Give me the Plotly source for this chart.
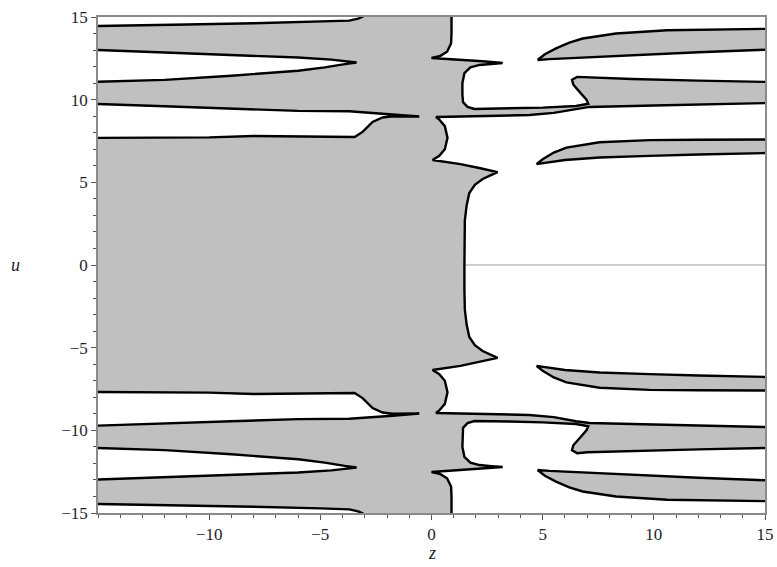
import plotly.graph_objects as go

# ---- data (upper half, u >= 0; lower half is the mirror image u -> -u) ----
# main grey region boundary, from (z, 0) on the right side going up and round to the left edge
main_z = [1.48, 1.48, 1.50, 1.58, 1.70, 1.95, 2.30, 2.70, 2.97, 2.20, 1.30, 0.05,
          0.35, 0.60, 0.72, 0.60, 0.35, 0.20,
          1.0, 2.5, 4.4, 5.5, 6.5, 7.1, 10.0, 15.0, 16.0,
          16.0, 15.0, 12.0, 9.0, 7.0, 6.55, 6.32, 6.38, 6.66, 6.97, 7.05,
          6.5, 5.0, 3.5, 1.93, 1.62, 1.42, 1.39, 1.39, 1.48, 1.75, 2.16, 2.70, 3.20,
          2.30, 1.20, 0.00, 0.40, 0.70, 0.88, 0.90, 0.90,
          -3.0, -3.1, -3.3, -3.7, -5.0, -8.0, -11.0, -15.0, -16.0,
          -16.0, -15.0, -12.0, -9.0, -6.0, -4.5, -3.9, -3.37, -3.9, -4.8, -6.0, -9.0, -12.0, -15.0, -16.0,
          -16.0, -15.0, -12.0, -9.0, -6.0, -3.7, -1.75, -0.55, -1.75, -2.2, -2.65, -3.1, -3.46, -4.1, -8.0, -10.0, -15.0, -16.0,
          -16.0]
main_u = [0.0, 1.5, 2.7, 3.6, 4.35, 4.85, 5.2, 5.45, 5.62, 5.85, 6.1, 6.35,
          6.6, 7.0, 7.7, 8.4, 8.8, 8.95,
          8.97, 9.0, 9.07, 9.2, 9.45, 9.56, 9.65, 9.8, 9.82,
          11.05, 11.07, 11.15, 11.25, 11.33, 11.38, 11.2, 10.9, 10.47, 10.0, 9.75,
          9.62, 9.52, 9.47, 9.44, 9.56, 9.85, 10.3, 11.0, 11.6, 11.95, 12.1, 12.17, 12.22,
          12.32, 12.42, 12.52, 12.65, 12.9, 13.4, 14.0, 16.0,
          16.0, 15.02, 14.9, 14.78, 14.72, 14.62, 14.55, 14.45, 14.43,
          13.02, 13.0, 12.85, 12.7, 12.55, 12.42, 12.33, 12.25, 12.15, 11.95, 11.75, 11.45, 11.2, 11.07, 11.05,
          9.76, 9.74, 9.6, 9.45, 9.32, 9.3, 9.12, 8.98, 9.0, 8.92, 8.65, 8.05, 7.74, 7.75, 7.8, 7.72, 7.68, 7.68,
          0.0]

# top-right wedge
w1_z = [4.77, 5.1, 5.6, 6.2, 6.8, 8.3, 10.6, 13.0, 15.0, 16.0, 16.0, 15.0, 12.0, 9.05, 6.5, 5.3, 4.77]
w1_u = [12.4, 12.75, 13.1, 13.45, 13.7, 14.0, 14.2, 14.27, 14.3, 14.3, 13.0, 13.02, 12.87, 12.7, 12.55, 12.45, 12.4]

# middle-right wedge
w3_z = [4.72, 5.0, 5.5, 6.07, 7.56, 9.8, 12.0, 15.0, 16.0, 16.0, 15.0, 12.0, 9.8, 7.56, 6.0, 5.2, 4.72]
w3_u = [6.1, 6.4, 6.8, 7.1, 7.42, 7.55, 7.58, 7.6, 7.6, 6.8, 6.78, 6.68, 6.6, 6.5, 6.35, 6.2, 6.1]

x_ticks = [-10, -5, 0, 5, 10, 15]
y_ticks = [-15, -10, -5, 0, 5, 10, 15]

FILL = "#c0c0c0"
EDGE = "black"
FONT = "Liberation Serif, Times New Roman, serif"


def mirrored_closed(zs, us):
    """upper-half path -> full closed path including the mirror image below u=0"""
    z_full = list(zs) + [z for z in reversed(zs)][1:]
    u_full = list(us) + [-u for u in reversed(us)][1:]
    return z_full, u_full


fig = go.Figure()

# z axis line at u = 0 (light grey)
fig.add_trace(go.Scatter(x=[-15, 15], y=[0, 0], mode="lines",
                         line=dict(color="#bdbdbd", width=1.5), hoverinfo="skip", showlegend=False))

mz, mu = mirrored_closed(main_z, main_u)
fig.add_trace(go.Scatter(x=mz, y=mu, mode="lines", fill="toself", fillcolor=FILL,
                         line=dict(color=EDGE, width=2.4), hoverinfo="skip", showlegend=False))

for zs, us in [(w1_z, w1_u), (w3_z, w3_u)]:
    fig.add_trace(go.Scatter(x=zs, y=us, mode="lines", fill="toself", fillcolor=FILL,
                             line=dict(color=EDGE, width=2.4), hoverinfo="skip", showlegend=False))
    fig.add_trace(go.Scatter(x=zs, y=[-u for u in us], mode="lines", fill="toself", fillcolor=FILL,
                             line=dict(color=EDGE, width=2.4), hoverinfo="skip", showlegend=False))

axis_common = dict(
    showgrid=False, zeroline=False, showline=True, linecolor="#8a8a8a", linewidth=1.5, mirror=True,
    ticks="outside", ticklen=5, tickwidth=1.3, tickcolor="#555555",
    tickfont=dict(family=FONT, size=17, color="#1e1e2a"),
    minor=dict(dtick=1, ticks="outside", ticklen=3, tickwidth=1.2, tickcolor="#555555"),
)

W, H = 777, 567
ML, MR, MT, MB = 98, 12, 17, 54
pw, ph = W - ML - MR, H - MT - MB

fig.update_layout(
    width=W, height=H,
    margin=dict(l=ML, r=MR, t=MT, b=MB, autoexpand=False),
    paper_bgcolor="white", plot_bgcolor="white",
    xaxis=dict(range=[-15, 15], tickvals=x_ticks, tick0=-15, **axis_common),
    yaxis=dict(range=[-15, 15], tickvals=y_ticks, tick0=-15, **axis_common),
    annotations=[
        dict(text="<i>u</i>", x=(15 - ML) / pw, y=(H - MB - 265) / ph, xref="paper", yref="paper",
             showarrow=False, xanchor="center", yanchor="middle",
             font=dict(family=FONT, size=18, color="#1e1e2a")),
        dict(text="<i>z</i>", x=(432 - ML) / pw, y=(H - MB - 553) / ph, xref="paper", yref="paper",
             showarrow=False, xanchor="center", yanchor="middle",
             font=dict(family=FONT, size=18, color="#1e1e2a")),
    ],
)

fig.write_html("out.html", config={"displayModeBar": False},
               post_script="document.body.style.margin='0';document.body.style.padding='0';")
